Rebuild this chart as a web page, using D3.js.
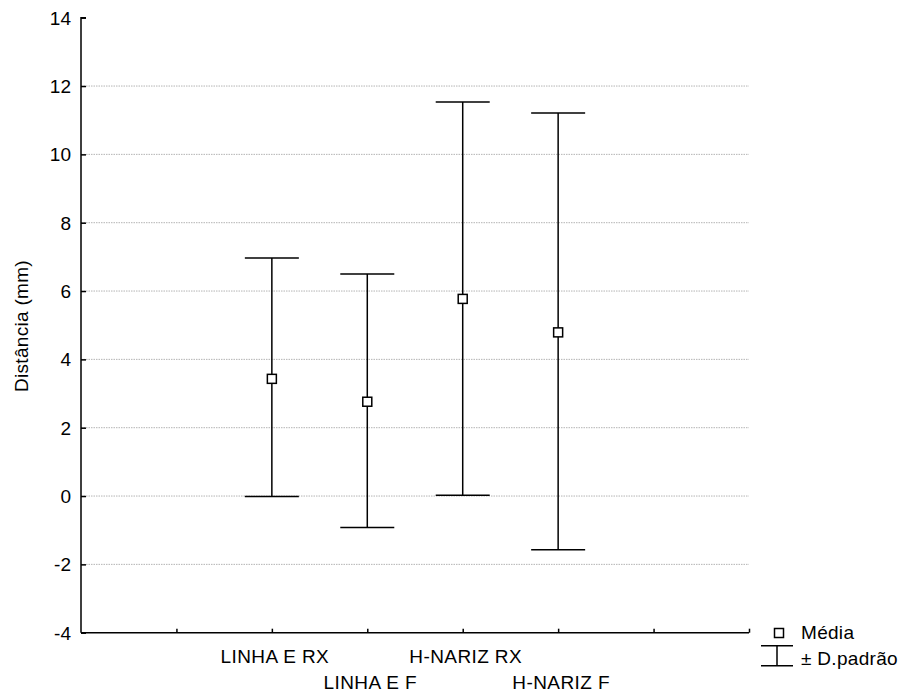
<!DOCTYPE html>
<html>
<head>
<meta charset="utf-8">
<script src="https://cdn.jsdelivr.net/npm/d3@7"></script>
<style>
  body { margin: 0; background: #fff; }
  text { font-family: Arial, "Liberation Sans", sans-serif; fill: #000; }
</style>
</head>
<body>
<div id="chart"></div>
<script>
// data
const categories = ['LINHA E RX', 'LINHA E F', 'H-NARIZ RX', 'H-NARIZ F'];
const means = [3.43, 2.76, 5.77, 4.79];
const upper = [6.97, 6.50, 11.53, 11.21];
const lower = [-0.01, -0.92, 0.02, -1.57];
const yTicks = [-4, -2, 0, 2, 4, 6, 8, 10, 12, 14];
const gridValues = [-2, 0, 2, 4, 6, 8, 10, 12];
const yLabel = 'Distância (mm)';
const legendLabels = ['Média', '± D.padrão'];

const W = 907, H = 693;
const plot = { left: 81, right: 749, top: 17.7, bottom: 632.7 };

const svg = d3.select('#chart').append('svg')
  .attr('width', W)
  .attr('height', H);

// category slots: 7 intervals, categories sit on slots 2..5
const x = d3.scaleLinear().domain([0, 7]).range([plot.left, plot.right]);
const y = d3.scaleLinear().domain([-4, 14]).range([plot.bottom, plot.top]);

// gridlines
svg.append('g')
  .selectAll('line')
  .data(gridValues)
  .join('line')
  .attr('x1', plot.left).attr('x2', plot.right)
  .attr('y1', d => y(d)).attr('y2', d => y(d))
  .attr('stroke', '#b4b4b4')
  .attr('stroke-width', 1)
  .attr('stroke-dasharray', '1.5,1');

// y axis, ticks pointing inward
const yAxis = svg.append('g')
  .attr('transform', `translate(${plot.left},0)`)
  .call(d3.axisRight(y).tickValues(yTicks).tickSize(5).tickFormat(''));
yAxis.select('.domain').attr('stroke', '#000').attr('stroke-width', 1.5)
  .attr('d', `M5,${plot.top}H0V${plot.bottom}`);
yAxis.selectAll('.tick line').attr('stroke', '#000').attr('stroke-width', 1.5);

svg.append('g')
  .selectAll('text')
  .data(yTicks)
  .join('text')
  .attr('x', 71)
  .attr('y', d => y(d))
  .attr('dy', '0.36em')
  .attr('text-anchor', 'end')
  .attr('font-size', '19px')
  .text(d => d);

// x axis, ticks pointing up
const xAxis = svg.append('g')
  .attr('transform', `translate(0,${plot.bottom})`)
  .call(d3.axisTop(x).tickValues([1, 2, 3, 4, 5, 6, 7]).tickSize(4).tickFormat(''));
xAxis.select('.domain').attr('stroke', '#000').attr('stroke-width', 1.5)
  .attr('d', `M${plot.left},0H${plot.right}`);
xAxis.selectAll('.tick line').attr('stroke', '#000').attr('stroke-width', 1.5);

// category labels, staggered in two rows
svg.append('g')
  .selectAll('text')
  .data(categories)
  .join('text')
  .attr('x', (d, i) => x(i + 2) + 3)
  .attr('y', (d, i) => i % 2 === 0 ? 663 : 689)
  .attr('text-anchor', 'middle')
  .attr('font-size', '19px')
  .attr('letter-spacing', '0.4px')
  .text(d => d);

// y label
svg.append('text')
  .attr('transform', 'translate(28,326) rotate(-90)')
  .attr('text-anchor', 'middle')
  .attr('font-size', '19px')
  .attr('letter-spacing', '0.3px')
  .text(yLabel);

// error bars
const capW = 27;
const bars = svg.append('g')
  .selectAll('g')
  .data(categories.map((c, i) => ({ c, i, m: means[i], hi: upper[i], lo: lower[i] })))
  .join('g')
  .attr('stroke', '#000')
  .attr('stroke-width', 1.5)
  .attr('fill', 'none');

bars.append('line')
  .attr('x1', d => x(d.i + 2)).attr('x2', d => x(d.i + 2))
  .attr('y1', d => y(d.hi)).attr('y2', d => y(d.lo));
bars.append('line')
  .attr('x1', d => x(d.i + 2) - capW).attr('x2', d => x(d.i + 2) + capW)
  .attr('y1', d => y(d.hi)).attr('y2', d => y(d.hi));
bars.append('line')
  .attr('x1', d => x(d.i + 2) - capW).attr('x2', d => x(d.i + 2) + capW)
  .attr('y1', d => y(d.lo)).attr('y2', d => y(d.lo));
bars.append('rect')
  .attr('x', d => x(d.i + 2) - 4.5)
  .attr('y', d => y(d.m) - 4.5)
  .attr('width', 9).attr('height', 9)
  .attr('fill', '#fff');

// legend
const legend = svg.append('g');
legend.append('rect')
  .attr('x', 774.5).attr('y', 628.5)
  .attr('width', 9).attr('height', 9)
  .attr('fill', '#fff').attr('stroke', '#000').attr('stroke-width', 1.5);
legend.append('path')
  .attr('d', 'M761,645.7H793M761,665.7H793M777,645.7V665.7')
  .attr('stroke', '#000').attr('stroke-width', 1.5).attr('fill', 'none');
legend.selectAll('text')
  .data(legendLabels)
  .join('text')
  .attr('x', 801)
  .attr('y', (d, i) => i === 0 ? 639 : 665)
  .attr('font-size', '19px')
  .attr('letter-spacing', '0.3px')
  .text(d => d);
</script>
</body>
</html>
